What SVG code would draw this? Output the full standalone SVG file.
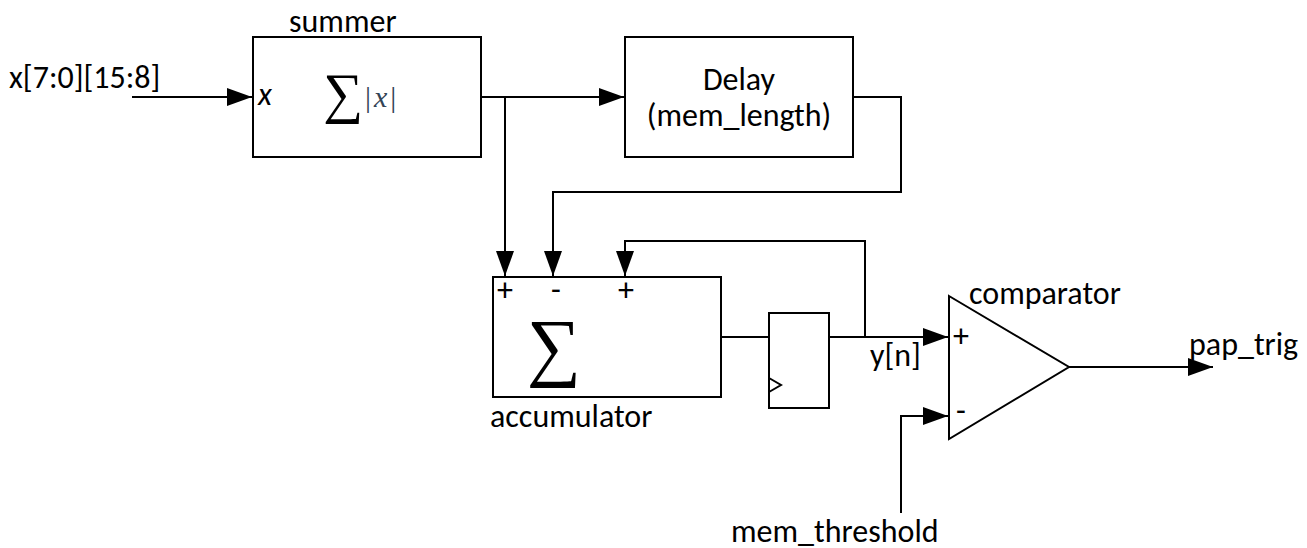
<svg xmlns="http://www.w3.org/2000/svg" width="1307" height="548" viewBox="0 0 1307 548">
<style>
text{font-family:"Carlito","Lato","Liberation Sans",sans-serif;font-size:32px;fill:#000}
.b{fill:#fff;stroke:#000;stroke-width:2}
.l{fill:none;stroke:#000;stroke-width:2}
.s{font-family:"Liberation Serif",serif}
.s1{font-size:56px}
.s2{font-size:76px}
.m{font-size:30px;fill:#345;letter-spacing:3px}
</style>
<defs><marker id="a" markerUnits="userSpaceOnUse" markerWidth="26" markerHeight="18" refX="25" refY="9" orient="auto"><path d="M0 0L25 9L0 18Z" fill="#000"/></marker></defs>
<rect width="1307" height="548" fill="#fff"/>
<g id="connectors">
<path class="l" marker-end="url(#a)" d="M132 97H252"/>
<path class="l" marker-end="url(#a)" d="M481 97H624"/>
<path class="l" marker-end="url(#a)" d="M505 97V276"/>
<path class="l" marker-end="url(#a)" d="M853 97H901V192H553V276"/>
<path class="l" d="M721 337H769"/>
<path class="l" marker-end="url(#a)" d="M829 337H948"/>
<path class="l" marker-end="url(#a)" d="M865 337V241H625V276"/>
<path class="l" marker-end="url(#a)" d="M901 513V416H948"/>
<path class="l" marker-end="url(#a)" d="M1069 367H1213"/>
</g>
<g id="input"><text x="9" y="88">x[7:0][15:8]</text></g>
<g id="summer"><rect class="b" x="253" y="37" width="228" height="120"/><text x="289" y="32">summer</text><text x="258" y="105" font-style="italic">x</text><text class="s s1" x="323" y="112">∑</text><text class="s m" x="365" y="107">|<tspan font-style="italic">x</tspan>|</text></g>
<g id="delay"><rect class="b" x="625" y="37" width="228" height="120"/><text x="739" y="90" text-anchor="middle">Delay</text><text x="739" y="126" text-anchor="middle">(mem_length)</text></g>
<g id="accumulator"><rect class="b" x="493" y="277" width="228" height="120"/><text x="497" y="301">+</text><text x="551" y="300">-</text><text x="618" y="301">+</text><text class="s s2" x="527" y="372">∑</text><text x="490" y="427">accumulator</text></g>
<g id="register"><rect class="b" x="769" y="313" width="60" height="95"/><path class="l" d="M769 378L781 385L769 392"/></g>
<g id="comparator"><path class="b" d="M949 296L1069 367L949 439Z"/><text x="969" y="304">comparator</text><text x="953" y="347">+</text><text x="956" y="421">-</text></g>
<g id="labels"><text x="870" y="366">y[n]</text><text x="1189" y="355">pap_trig</text><text x="731" y="542">mem_threshold</text></g>
</svg>
